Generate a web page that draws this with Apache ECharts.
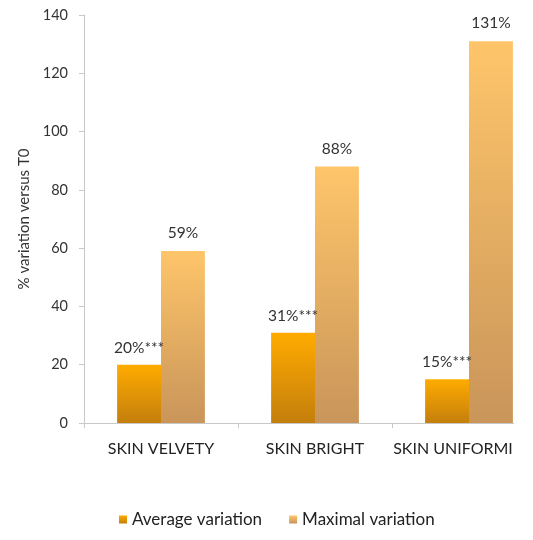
<!DOCTYPE html>
<html>
<head>
<meta charset="utf-8">
<script src="https://cdn.jsdelivr.net/npm/echarts@6/dist/echarts.min.js"></script>
<style>html,body{margin:0;padding:0;background:#fff}#c{width:533px;height:540px}</style>
</head>
<body>
<div id="c"></div>
<script>
const categories = ['SKIN VELVETY', 'SKIN BRIGHT', 'SKIN UNIFORMITY'];
const averageValues = [20, 31, 15];
const maximalValues = [59, 88, 131];
const averageLabels = ['20%***', '31%***', '15%***'];
const maximalLabels = ['59%', '88%', '131%'];
const yTicks = [0, 20, 40, 60, 80, 100, 120, 140];

const font = 'Lato, "Open Sans", sans-serif';
const chart = echarts.init(document.getElementById('c'));
chart.setOption({
  animation: false,
  backgroundColor: '#fff',
  grid: { left: 84, top: 15, width: 462, height: 408, outerBoundsMode: 'none', containLabel: false },
  legend: {
    bottom: 7, left: 114, itemWidth: 8, itemHeight: 8, itemGap: 27,
    icon: 'rect',
    textStyle: { fontFamily: font, fontSize: 17, color: '#222' },
    data: ['Average variation', 'Maximal variation']
  },
  xAxis: {
    type: 'category', data: categories,
    axisLine: { lineStyle: { color: '#c8c8c8', width: 1 } },
    axisTick: { show: true, length: 5, lineStyle: { color: '#c8c8c8' } },
    axisLabel: { interval: 0, fontFamily: font, fontSize: 16, color: '#222', margin: 18,
      formatter: v => v === 'SKIN UNIFORMITY' ? '{u|SKIN UNIFORMI}' : v,
      rich: { u: { fontFamily: font, fontSize: 16, color: '#222', padding: [0, 32, 0, 0] } } }
  },
  yAxis: {
    type: 'value', min: yTicks[0], max: yTicks[yTicks.length - 1], interval: 20,
    name: '% variation versus T0', nameLocation: 'middle', nameGap: 51,
    nameTextStyle: { fontFamily: font, fontSize: 15, color: '#333' },
    axisLine: { show: true, lineStyle: { color: '#c8c8c8' } },
    axisTick: { show: true, length: 5, lineStyle: { color: '#c8c8c8' } },
    splitLine: { show: false },
    axisLabel: { fontFamily: font, fontSize: 14.5, color: '#333', margin: 16 }
  },
  series: [
    {
      name: 'Average variation', type: 'bar', data: averageValues,
      barGap: '0%', barCategoryGap: '43%',
      itemStyle: { color: new echarts.graphic.LinearGradient(0, 0, 0, 1, [
        { offset: 0, color: '#ffab00' }, { offset: 1, color: '#c47f0c' }]) },
      label: { show: true, position: 'top', distance: 9,
        fontFamily: font, fontSize: 15.5, color: '#333',
        formatter: p => averageLabels[p.dataIndex] }
    },
    {
      name: 'Maximal variation', type: 'bar', data: maximalValues,
      itemStyle: { color: new echarts.graphic.LinearGradient(0, 0, 0, 1, [
        { offset: 0, color: '#fec56a' }, { offset: 1, color: '#c9955a' }]) },
      label: { show: true, position: 'top', distance: 10,
        fontFamily: font, fontSize: 15.5, color: '#333',
        formatter: p => maximalLabels[p.dataIndex] }
    }
  ],
  graphic: [{ type: 'rect', left: 514, top: 0, shape: { width: 25, height: 470 },
    style: { fill: '#fff' }, z: 100 }]
});
</script>
</body>
</html>
